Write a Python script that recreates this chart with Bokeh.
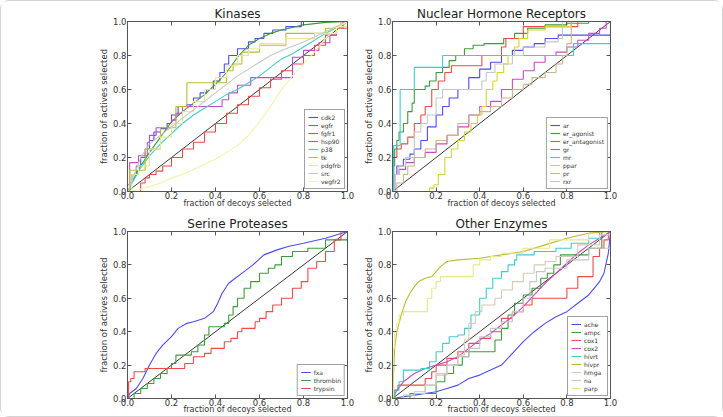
from bokeh.plotting import figure
from bokeh.layouts import row, column
from bokeh.models import Range1d, FixedTicker, LinearAxis
from bokeh.embed import file_html
from bokeh.resources import INLINE

FONT = "DejaVu Sans"
TICKS = [0.0, 0.2, 0.4, 0.6, 0.8, 1.0]
TICK_LABELS = ["0.0", "0.2", "0.4", "0.6", "0.8", "1.0"]
X_LABEL = "fraction of decoys selected"
Y_LABEL = "fraction of actives selected"
DIAG = [0.0, 1.0]

# ---------------- Kinases ----------------
cdk2_x = [0, 0.01, 0.02, 0.04, 0.06, 0.08, 0.1, 0.12, 0.15, 0.18, 0.2, 0.23, 0.27, 0.3, 0.33, 0.36, 0.39, 0.42, 0.44, 0.46, 0.5, 0.55, 0.58, 0.62, 0.66, 0.72, 0.79, 1.0]
cdk2_y = [0, 0.05, 0.1, 0.15, 0.2, 0.25, 0.3, 0.35, 0.37, 0.4, 0.45, 0.5, 0.51, 0.55, 0.58, 0.6, 0.65, 0.7, 0.75, 0.8, 0.84, 0.88, 0.9, 0.93, 0.95, 0.97, 1.0, 1.0]
egfr_x = [0, 0.03, 0.06, 0.1, 0.15, 0.2, 0.25, 0.3, 0.35, 0.4, 0.45, 0.5, 0.55, 0.6, 0.65, 0.7, 0.8, 0.9, 1.0]
egfr_y = [0, 0.08, 0.15, 0.23, 0.32, 0.41, 0.47, 0.52, 0.57, 0.63, 0.7, 0.79, 0.86, 0.9, 0.93, 0.95, 0.98, 0.995, 1.0]
fgfr1_x = [0, 0.04, 0.06, 0.08, 0.1, 0.13, 0.16, 0.2, 0.25, 0.3, 0.35, 0.4, 0.45, 0.5, 0.55, 0.6, 0.65, 0.7, 0.75, 0.8, 0.85, 0.9, 0.95, 1.0]
fgfr1_y = [0, 0, 0.05, 0.08, 0.1, 0.12, 0.15, 0.2, 0.25, 0.29, 0.35, 0.4, 0.46, 0.51, 0.56, 0.61, 0.66, 0.71, 0.75, 0.8, 0.86, 0.92, 0.96, 1.0]
hsp90_x = [0, 0.01, 0.05, 0.09, 0.1, 0.13, 0.2, 0.22, 0.25, 0.43, 0.46, 0.5, 0.56, 0.75, 0.8, 0.87, 0.92, 0.95, 0.98, 1.0]
hsp90_y = [0.04, 0.17, 0.21, 0.29, 0.33, 0.375, 0.42, 0.46, 0.5, 0.54, 0.58, 0.625, 0.67, 0.79, 0.83, 0.875, 0.92, 0.96, 1.0, 1.0]
p38_x = [0, 0.03, 0.06, 0.1, 0.15, 0.2, 0.25, 0.3, 0.35, 0.4, 0.45, 0.5, 0.55, 0.6, 0.65, 0.7, 0.75, 0.8, 0.9, 1.0]
p38_y = [0, 0.07, 0.14, 0.21, 0.28, 0.34, 0.4, 0.45, 0.49, 0.53, 0.57, 0.6, 0.64, 0.68, 0.73, 0.78, 0.81, 0.85, 0.93, 1.0]
tk_x = [0, 0.01, 0.08, 0.15, 0.22, 0.27, 0.45, 0.48, 0.52, 0.6, 0.72, 0.9, 0.97, 1.0]
tk_y = [0, 0.125, 0.25, 0.375, 0.5, 0.64, 0.71, 0.75, 0.82, 0.86, 0.93, 0.96, 1.0, 1.0]
pdgfrb_x = [0, 0.02, 0.05, 0.1, 0.15, 0.2, 0.25, 0.3, 0.35, 0.4, 0.45, 0.5, 0.55, 0.6, 0.72, 0.85, 0.95, 1.0]
pdgfrb_y = [0, 0.1, 0.15, 0.25, 0.32, 0.4, 0.47, 0.53, 0.6, 0.67, 0.74, 0.8, 0.84, 0.87, 0.9, 0.93, 0.97, 1.0]
src_x = [0, 0.03, 0.06, 0.1, 0.15, 0.2, 0.25, 0.3, 0.35, 0.4, 0.45, 0.5, 0.55, 0.6, 0.65, 0.7, 0.8, 0.9, 1.0]
src_y = [0, 0.1, 0.2, 0.28, 0.33, 0.38, 0.43, 0.48, 0.53, 0.58, 0.63, 0.68, 0.72, 0.76, 0.8, 0.83, 0.88, 0.94, 1.0]
vegfr2_x = [0, 0.05, 0.1, 0.15, 0.2, 0.25, 0.3, 0.35, 0.4, 0.45, 0.5, 0.55, 0.6, 0.65, 0.7, 0.75, 0.8, 0.85, 0.9, 0.95, 1.0]
vegfr2_y = [0, 0.01, 0.03, 0.05, 0.08, 0.1, 0.13, 0.16, 0.19, 0.23, 0.27, 0.33, 0.41, 0.5, 0.6, 0.68, 0.75, 0.82, 0.9, 0.96, 1.0]

# ---------------- Nuclear hormone receptors ----------------
ar_x = [0, 0.01, 0.02, 0.05, 0.08, 0.1, 0.13, 0.16, 0.2, 0.23, 0.26, 0.3, 0.35, 0.4, 0.45, 0.5, 0.55, 0.6, 0.65, 0.7, 0.76, 1.0]
ar_y = [0, 0.1, 0.15, 0.19, 0.22, 0.25, 0.3, 0.38, 0.45, 0.5, 0.55, 0.6, 0.67, 0.72, 0.76, 0.8, 0.83, 0.85, 0.87, 0.9, 0.92, 1.0]
er_agonist_x = [0, 0.005, 0.01, 0.02, 0.03, 0.05, 0.07, 0.09, 0.1, 0.15, 0.17, 0.2, 0.23, 0.26, 0.29, 0.33, 0.37, 0.42, 0.51, 0.56, 0.62, 0.7, 0.8, 0.9, 1.0]
er_agonist_y = [0, 0.15, 0.25, 0.3, 0.35, 0.4, 0.47, 0.52, 0.6, 0.62, 0.65, 0.7, 0.73, 0.77, 0.8, 0.84, 0.86, 0.87, 0.9, 0.93, 0.96, 0.98, 0.99, 1.0, 1.0]
er_antagonist_x = [0, 0.005, 0.02, 0.04, 0.07, 0.1, 0.13, 0.15, 0.18, 0.21, 0.24, 0.27, 0.41, 0.5, 0.52, 0.6, 0.85, 1.0]
er_antagonist_y = [0, 0.2, 0.25, 0.28, 0.32, 0.4, 0.45, 0.5, 0.6, 0.65, 0.7, 0.74, 0.8, 0.85, 0.9, 0.97, 1.0, 1.0]
gr_x = [0, 0.01, 0.03, 0.06, 0.1, 0.15, 0.2, 0.25, 0.3, 0.35, 0.4, 0.45, 0.5, 0.55, 0.6, 0.65, 0.7, 0.75, 0.8, 0.85, 0.9, 0.95, 0.98, 1.0]
gr_y = [0, 0.1, 0.13, 0.17, 0.2, 0.23, 0.28, 0.33, 0.38, 0.45, 0.5, 0.53, 0.6, 0.66, 0.71, 0.76, 0.8, 0.82, 0.85, 0.89, 0.93, 0.96, 1.0, 1.0]
mr_x = [0, 0.005, 0.035, 0.1, 0.23, 0.83, 1.0]
mr_y = [0, 0.27, 0.6, 0.73, 0.8, 0.87, 1.0]
ppar_x = [0, 0.15, 0.17, 0.19, 0.21, 0.24, 0.27, 0.3, 0.33, 0.36, 0.39, 0.41, 0.43, 0.46, 0.48, 0.51, 0.53, 0.56, 0.58, 0.62, 0.7, 0.82, 1.0]
ppar_y = [0, 0, 0.02, 0.04, 0.1, 0.2, 0.25, 0.3, 0.35, 0.4, 0.45, 0.5, 0.6, 0.65, 0.7, 0.75, 0.8, 0.85, 0.9, 0.95, 0.97, 1.0, 1.0]
pr_x = [0, 0.02, 0.05, 0.07, 0.1, 0.15, 0.2, 0.25, 0.3, 0.35, 0.4, 0.45, 0.5, 0.55, 0.6, 0.64, 0.7, 0.75, 0.78, 0.8, 0.82, 1.0]
pr_y = [0, 0.05, 0.1, 0.15, 0.2, 0.25, 0.3, 0.33, 0.4, 0.45, 0.47, 0.5, 0.55, 0.6, 0.63, 0.67, 0.7, 0.75, 0.8, 0.87, 1.0, 1.0]
rxr_x = [0, 0.01, 0.03, 0.06, 0.1, 0.13, 0.16, 0.2, 0.23, 0.41, 0.43, 0.47, 0.55, 0.6, 0.7, 0.76, 0.78, 1.0]
rxr_y = [0, 0.1, 0.15, 0.2, 0.35, 0.4, 0.45, 0.55, 0.6, 0.65, 0.7, 0.75, 0.8, 0.85, 0.88, 0.9, 1.0, 1.0]

# ---------------- Serine proteases ----------------
fxa_x = [0, 0.01, 0.04, 0.07, 0.1, 0.13, 0.16, 0.2, 0.23, 0.27, 0.3, 0.35, 0.39, 0.41, 0.43, 0.46, 0.49, 0.53, 0.57, 0.62, 0.68, 0.73, 0.8, 0.9, 1.0]
fxa_y = [0, 0.03, 0.06, 0.12, 0.2, 0.27, 0.32, 0.37, 0.42, 0.45, 0.46, 0.48, 0.52, 0.57, 0.63, 0.69, 0.72, 0.76, 0.8, 0.86, 0.89, 0.91, 0.93, 0.96, 1.0]
thrombin_x = [0, 0.03, 0.06, 0.09, 0.12, 0.15, 0.18, 0.2, 0.22, 0.29, 0.32, 0.35, 0.37, 0.44, 0.46, 0.48, 0.5, 0.53, 0.56, 0.6, 0.64, 0.67, 0.7, 0.75, 0.82, 0.9, 1.0]
thrombin_y = [0, 0.03, 0.06, 0.09, 0.12, 0.15, 0.18, 0.21, 0.26, 0.28, 0.32, 0.38, 0.43, 0.45, 0.5, 0.55, 0.6, 0.66, 0.7, 0.75, 0.78, 0.8, 0.85, 0.88, 0.9, 0.95, 1.0]
trypsin_x = [0, 0.005, 0.015, 0.03, 0.08, 0.26, 0.3, 0.35, 0.38, 0.44, 0.47, 0.5, 0.52, 0.58, 0.6, 0.63, 0.66, 0.7, 0.75, 0.79, 0.82, 0.86, 0.9, 0.94, 0.97, 1.0]
trypsin_y = [0, 0.1, 0.12, 0.16, 0.18, 0.21, 0.25, 0.27, 0.3, 0.34, 0.36, 0.4, 0.42, 0.46, 0.48, 0.52, 0.56, 0.6, 0.66, 0.7, 0.78, 0.82, 0.88, 0.95, 1.0, 1.0]

# ---------------- Other enzymes ----------------
ache_x = [0, 0.05, 0.1, 0.15, 0.2, 0.25, 0.3, 0.35, 0.4, 0.45, 0.5, 0.55, 0.6, 0.65, 0.7, 0.75, 0.8, 0.85, 0.9, 0.95, 0.97, 0.99, 1.0]
ache_y = [0, 0.01, 0.02, 0.03, 0.04, 0.06, 0.08, 0.12, 0.14, 0.17, 0.2, 0.27, 0.34, 0.4, 0.45, 0.49, 0.52, 0.57, 0.62, 0.7, 0.75, 0.87, 1.0]
ampc_x = [0, 0.08, 0.2, 0.24, 0.28, 0.32, 0.35, 0.47, 0.5, 0.53, 0.56, 0.6, 0.64, 0.68, 0.71, 0.74, 0.77, 0.9, 0.96, 1.0]
ampc_y = [0, 0.03, 0.1, 0.15, 0.2, 0.25, 0.28, 0.35, 0.42, 0.5, 0.57, 0.62, 0.66, 0.72, 0.75, 0.8, 0.86, 0.9, 1.0, 1.0]
cox1_x = [0, 0.01, 0.025, 0.15, 0.18, 0.2, 0.25, 0.3, 0.35, 0.4, 0.45, 0.5, 0.55, 0.6, 0.64, 0.8, 0.85, 0.92, 0.95, 0.97, 0.99, 1.0]
cox1_y = [0, 0.05, 0.08, 0.12, 0.16, 0.2, 0.24, 0.28, 0.33, 0.36, 0.4, 0.48, 0.52, 0.56, 0.6, 0.66, 0.73, 0.85, 0.9, 0.95, 1.0, 1.0]
cox2_x = [0, 0.02, 0.05, 0.1, 0.15, 0.2, 0.25, 0.3, 0.35, 0.4, 0.45, 0.5, 0.55, 0.6, 0.65, 0.7, 0.75, 0.8, 0.85, 0.9, 0.95, 1.0]
cox2_y = [0, 0.05, 0.1, 0.15, 0.18, 0.2, 0.22, 0.25, 0.3, 0.35, 0.39, 0.44, 0.49, 0.55, 0.62, 0.69, 0.75, 0.81, 0.87, 0.92, 0.96, 1.0]
hivrt_x = [0, 0.01, 0.03, 0.05, 0.13, 0.17, 0.2, 0.23, 0.26, 0.3, 0.33, 0.36, 0.4, 0.43, 0.46, 0.5, 0.53, 0.56, 0.57, 0.65, 0.75, 0.82, 0.9, 0.95, 1.0]
hivrt_y = [0, 0.05, 0.1, 0.17, 0.18, 0.22, 0.28, 0.33, 0.37, 0.38, 0.42, 0.5, 0.6, 0.66, 0.72, 0.76, 0.8, 0.83, 0.86, 0.88, 0.9, 0.93, 0.96, 1.0, 1.0]
hivpr_x = [0, 0.005, 0.01, 0.02, 0.04, 0.06, 0.08, 0.1, 0.12, 0.15, 0.18, 0.2, 0.22, 0.25, 0.3, 0.4, 0.5, 0.6, 0.7, 0.8, 0.9, 1.0]
hivpr_y = [0, 0.15, 0.3, 0.4, 0.5, 0.58, 0.63, 0.67, 0.7, 0.72, 0.73, 0.76, 0.79, 0.82, 0.83, 0.84, 0.86, 0.88, 0.92, 0.96, 0.99, 1.0]
hmga_x = [0, 0.1, 0.15, 0.2, 0.25, 0.3, 0.33, 0.35, 0.38, 0.41, 0.47, 0.5, 0.55, 0.6, 0.65, 0.7, 0.75, 0.85, 0.95, 1.0]
hmga_y = [0, 0.03, 0.08, 0.15, 0.2, 0.26, 0.35, 0.45, 0.52, 0.56, 0.6, 0.65, 0.7, 0.75, 0.8, 0.82, 0.85, 0.92, 0.98, 1.0]
na_x = [0, 0.05, 0.1, 0.15, 0.2, 0.25, 0.3, 0.35, 0.4, 0.45, 0.5, 0.55, 0.6, 0.63, 0.66, 0.7, 0.8, 0.9, 1.0]
na_y = [0, 0.02, 0.04, 0.08, 0.14, 0.2, 0.25, 0.3, 0.37, 0.42, 0.46, 0.52, 0.6, 0.7, 0.76, 0.78, 0.83, 0.9, 1.0]
parp_x = [0, 0.003, 0.01, 0.02, 0.03, 0.05, 0.16, 0.18, 0.2, 0.22, 0.37, 0.4, 0.45, 0.5, 0.6, 0.72, 0.9, 1.0]
parp_y = [0, 0.3, 0.4, 0.45, 0.5, 0.52, 0.6, 0.66, 0.7, 0.73, 0.8, 0.83, 0.85, 0.87, 0.9, 0.95, 1.0, 1.0]

# line colours
BLUE = "#4c4cf2"
GREEN = "#3d9a3d"
RED = "#f04a4a"
MAGENTA = "#c84ac8"
CYAN = "#40cccc"
OLIVE = "#bcbc2c"
YELLOW = "#d6d62c"
PALE_YELLOW = "#e8e88e"
VERY_PALE = "#eef5a8"
LIGHT_GRAY = "#c6c6c6"
TAN = "#ccb48c"
BEIGE = "#d8cab8"

AXIS_COLOR = "#555555"
TEXT_COLOR = "#333333"


def style_axis(ax, labels=True):
    ax.ticker = FixedTicker(ticks=TICKS)
    ax.major_label_overrides = dict(zip(TICKS, TICK_LABELS))
    ax.axis_line_color = AXIS_COLOR
    ax.major_tick_line_color = AXIS_COLOR
    ax.major_tick_in = 4
    ax.major_tick_out = 0
    ax.minor_tick_in = 0
    ax.minor_tick_out = 0
    ax.minor_tick_line_color = None
    ax.major_label_standoff = 1
    if labels:
        ax.major_label_text_font = FONT
        ax.major_label_text_font_size = "8.5px"
        ax.major_label_text_color = TEXT_COLOR
        ax.axis_label_text_font = FONT
        ax.axis_label_text_font_style = "normal"
        ax.axis_label_text_color = TEXT_COLOR
        ax.axis_label_standoff = 1
    else:
        ax.major_label_text_font_size = "0px"
        ax.major_label_text_alpha = 0


def panel(title, series, width, height, left, right, top, bottom, xlabel_gap):
    p = figure(width=width, height=height,
               x_range=Range1d(0, 1), y_range=Range1d(0, 1),
               output_backend="svg", toolbar_location=None,
               min_border_left=left, min_border_right=right,
               min_border_top=top, min_border_bottom=bottom,
               x_axis_label=X_LABEL, y_axis_label=Y_LABEL,
               background_fill_color="white", border_fill_color="white")
    p.grid.visible = False
    p.outline_line_color = AXIS_COLOR
    p.title.text = title
    p.title.text_font = FONT
    p.title.text_font_size = "12px"
    p.title.text_font_style = "normal"
    p.title.text_color = "#222222"
    p.title.align = "center"
    p.title.standoff = 1

    style_axis(p.xaxis[0])
    style_axis(p.yaxis[0])
    p.xaxis[0].axis_label_text_font_size = "8px"
    p.xaxis[0].major_label_standoff = 0
    p.xaxis[0].axis_label_standoff = xlabel_gap
    p.yaxis[0].axis_label_text_font_size = "8.5px"

    # mirrored tick marks on the top and right edges
    top_ax = LinearAxis()
    right_ax = LinearAxis()
    style_axis(top_ax, labels=False)
    style_axis(right_ax, labels=False)
    top_ax.major_label_standoff = 0
    right_ax.major_label_standoff = 0
    p.add_layout(top_ax, "above")
    p.add_layout(right_ax, "right")

    p.line(DIAG, DIAG, line_color="#222222", line_width=0.9)

    for name, xs, ys, color, stepped in series:
        if stepped:
            p.step(xs, ys, mode="after", line_color=color, line_width=1.1,
                   legend_label=name)
        else:
            p.line(xs, ys, line_color=color, line_width=1.1, legend_label=name)

    lg = p.legend[0]
    lg.location = "bottom_right"
    lg.margin = 2
    lg.padding = 3
    lg.spacing = 0
    lg.label_height = 8
    lg.glyph_height = 8
    lg.glyph_width = 10
    lg.label_standoff = 3
    lg.label_text_font = FONT
    lg.label_text_font_size = "6px"
    lg.label_text_color = TEXT_COLOR
    lg.border_line_color = "#444444"
    lg.border_line_width = 1
    lg.background_fill_color = "white"
    lg.background_fill_alpha = 1.0
    return p


kinases = [
    ("cdk2", cdk2_x, cdk2_y, BLUE, True),
    ("egfr", egfr_x, egfr_y, GREEN, False),
    ("fgfr1", fgfr1_x, fgfr1_y, RED, True),
    ("hsp90", hsp90_x, hsp90_y, MAGENTA, True),
    ("p38", p38_x, p38_y, CYAN, False),
    ("tk", tk_x, tk_y, OLIVE, True),
    ("pdgfrb", pdgfrb_x, pdgfrb_y, PALE_YELLOW, True),
    ("src", src_x, src_y, LIGHT_GRAY, False),
    ("vegfr2", vegfr2_x, vegfr2_y, VERY_PALE, False),
]
nuclear = [
    ("ar", ar_x, ar_y, BLUE, True),
    ("er_agonist", er_agonist_x, er_agonist_y, GREEN, True),
    ("er_antagonist", er_antagonist_x, er_antagonist_y, RED, True),
    ("gr", gr_x, gr_y, MAGENTA, True),
    ("mr", mr_x, mr_y, CYAN, True),
    ("ppar", ppar_x, ppar_y, YELLOW, True),
    ("pr", pr_x, pr_y, TAN, True),
    ("rxr", rxr_x, rxr_y, LIGHT_GRAY, True),
]
serine = [
    ("fxa", fxa_x, fxa_y, BLUE, False),
    ("thrombin", thrombin_x, thrombin_y, GREEN, True),
    ("trypsin", trypsin_x, trypsin_y, RED, True),
]
others = [
    ("ache", ache_x, ache_y, BLUE, False),
    ("ampc", ampc_x, ampc_y, GREEN, True),
    ("cox1", cox1_x, cox1_y, RED, True),
    ("cox2", cox2_x, cox2_y, MAGENTA, False),
    ("hivrt", hivrt_x, hivrt_y, CYAN, True),
    ("hivpr", hivpr_x, hivpr_y, OLIVE, False),
    ("hmga", hmga_x, hmga_y, BEIGE, True),
    ("na", na_x, na_y, LIGHT_GRAY, True),
    ("parp", parp_x, parp_y, PALE_YELLOW, True),
]

p1 = panel("Kinases", kinases, 359, 209, 126, 13, 20, 18, -3)
p2 = panel("Nuclear Hormone Receptors", nuclear, 362, 209, 31, 112, 20, 18, -3)
p3 = panel("Serine Proteases", serine, 359, 206, 126, 13, 21, 16, -4)
p4 = panel("Other Enzymes", others, 362, 206, 31, 112, 21, 16, -4)

layout = column(row(p1, p2), row(p3, p4),
                styles={"border": "1px solid #d4d4d4", "border-radius": "9px",
                        "background-color": "white"})

with open("out.html", "w") as f:
    f.write(file_html(layout, INLINE))
